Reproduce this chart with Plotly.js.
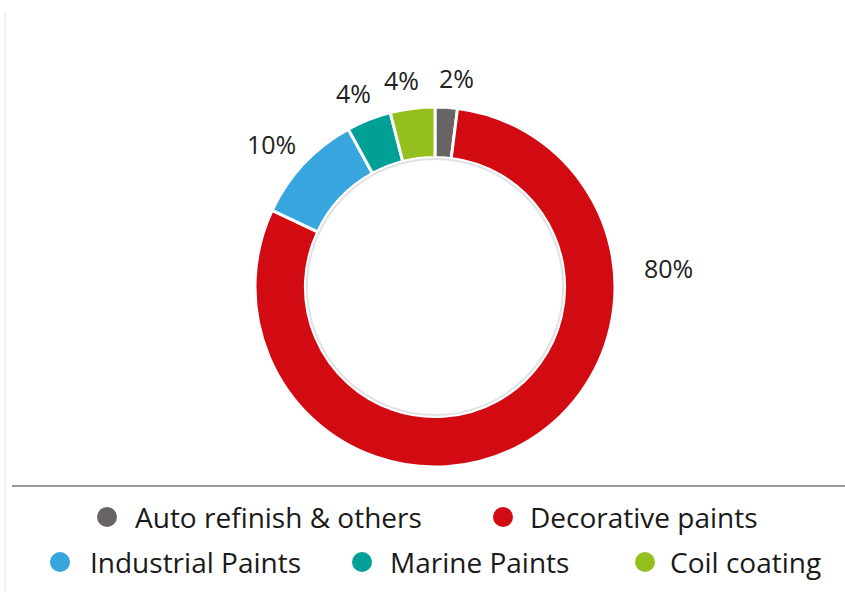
<!DOCTYPE html>
<html>
<head>
<meta charset="utf-8">
<script src="https://cdn.plot.ly/plotly-3.0.1.min.js"></script>
<style>html,body{margin:0;padding:0;background:#fff;}#chart{width:845px;height:592px;}</style>
</head>
<body>
<div id="chart"></div>
<script>
// ---- data ----
const categories = ["Auto refinish & others", "Decorative paints", "Industrial Paints", "Marine Paints", "Coil coating"];
const shares = [2, 80, 10, 4, 4];
const sliceColors = ["#686463", "#D20A11", "#37A6DE", "#00A096", "#93C01F"];

// ---- layout helpers ----
const W = 845, H = 592;
const px = v => v / W;
const py = v => 1 - v / H;
const total = shares.reduce((a, b) => a + b, 0);
const pctText = shares.map(v => Math.round(v / total * 100) + "%");
const bigIdx = shares.indexOf(Math.max(...shares));

const FONT = "Open Sans, Noto Sans, sans-serif";
const LABEL_SIZE = 25;

// pie geometry (pixels)
const CX = 435, CY = 287, R = 180, HOLE = 0.72;

const pie = {
  type: "pie",
  labels: categories,
  values: shares,
  sort: false,
  direction: "clockwise",
  rotation: 0,
  hole: HOLE,
  marker: { colors: sliceColors, line: { color: "#ffffff", width: 3 } },
  textinfo: "none",
  domain: { x: [px(CX - R), px(CX + R)], y: [py(CY + R), py(CY - R)] },
  showlegend: false,
  hoverinfo: "label+percent"
};

const shapes = [
  { type: "line", xref: "paper", yref: "paper", x0: px(12), x1: 1, y0: py(486), y1: py(486),
    line: { color: "#9a9a9a", width: 2 } },
  { type: "line", xref: "paper", yref: "paper", x0: px(5), x1: px(5), y0: py(12), y1: 0,
    line: { color: "#e4e4e4", width: 1 } },
  // soft inner edge of the ring
  { type: "circle", xref: "paper", yref: "paper", xsizemode: "pixel", ysizemode: "pixel",
    xanchor: px(CX), yanchor: py(CY),
    x0: -(R * HOLE - 1.5), x1: R * HOLE - 1.5, y0: -(R * HOLE - 1.5), y1: R * HOLE - 1.5,
    line: { color: "#e2e2e2", width: 2 } }
];
const annotations = [];

// percentage labels outside the slices, placed at each slice's mid angle
const placed = [];
let cum = 0;
shares.forEach((v, i) => {
  const mid = (cum + v / 2) / total * 2 * Math.PI; // clockwise from 12 o'clock
  cum += v;
  if (i === bigIdx) return;
  const txt = pctText[i];
  const digits = txt.length - 1;
  const w = LABEL_SIZE * (0.572 * digits + 0.84);
  const h = 18;
  const g = 20;
  const s = Math.sin(mid), c = Math.cos(mid);
  placed.push({ txt, w, x: CX + (R + g) * s + (w / 2) * s, y: CY - (R + g) * c - (h / 2) * c });
});
// keep neighbouring labels apart horizontally when they share a row
const MIN_GAP = 20;
placed.sort((a, b) => a.x - b.x);
for (let k = 1; k < placed.length; k++) {
  const a = placed[k - 1], b = placed[k];
  if (Math.abs(a.y - b.y) < 20) {
    const gap = (b.x - b.w / 2) - (a.x + a.w / 2);
    if (gap < MIN_GAP) { const d = (MIN_GAP - gap) / 2; a.x -= d; b.x += d; }
  }
}
placed.forEach(p => annotations.push({
  xref: "paper", yref: "paper", x: px(p.x), y: py(p.y),
  xanchor: "center", yanchor: "middle", showarrow: false,
  text: p.txt, font: { family: FONT, size: LABEL_SIZE, color: "#222222" }
}));
// the large slice's label sits at the right of the ring
annotations.push({
  xref: "paper", yref: "paper", x: px(668), y: py(268),
  xanchor: "center", yanchor: "middle", showarrow: false,
  text: pctText[bigIdx], font: { family: FONT, size: LABEL_SIZE, color: "#222222" }
});

// legend (layout only)
const legendPos = [
  { cx: 107, tx: 133, y: 517 },
  { cx: 503, tx: 528, y: 517 },
  { cx: 60, tx: 88, y: 562 },
  { cx: 362, tx: 388, y: 562 },
  { cx: 645, tx: 668, y: 562 }
];
categories.forEach((name, i) => {
  const p = legendPos[i];
  shapes.push({
    type: "circle", xref: "paper", yref: "paper",
    xsizemode: "pixel", ysizemode: "pixel",
    xanchor: px(p.cx), yanchor: py(p.y),
    x0: -10, x1: 10, y0: -10, y1: 10,
    fillcolor: sliceColors[i], line: { width: 0 }
  });
  annotations.push({
    xref: "paper", yref: "paper", x: px(p.tx), y: py(p.y),
    xanchor: "left", yanchor: "middle", showarrow: false,
    text: name, font: { family: FONT, size: 28, color: "#1a1a1a" }
  });
});

const layout = {
  width: W, height: H,
  margin: { l: 0, r: 0, t: 0, b: 0 },
  paper_bgcolor: "#ffffff",
  plot_bgcolor: "#ffffff",
  showlegend: false,
  shapes: shapes,
  annotations: annotations
};

Plotly.newPlot("chart", [pie], layout, { displayModeBar: false, staticPlot: true });
</script>
</body>
</html>
